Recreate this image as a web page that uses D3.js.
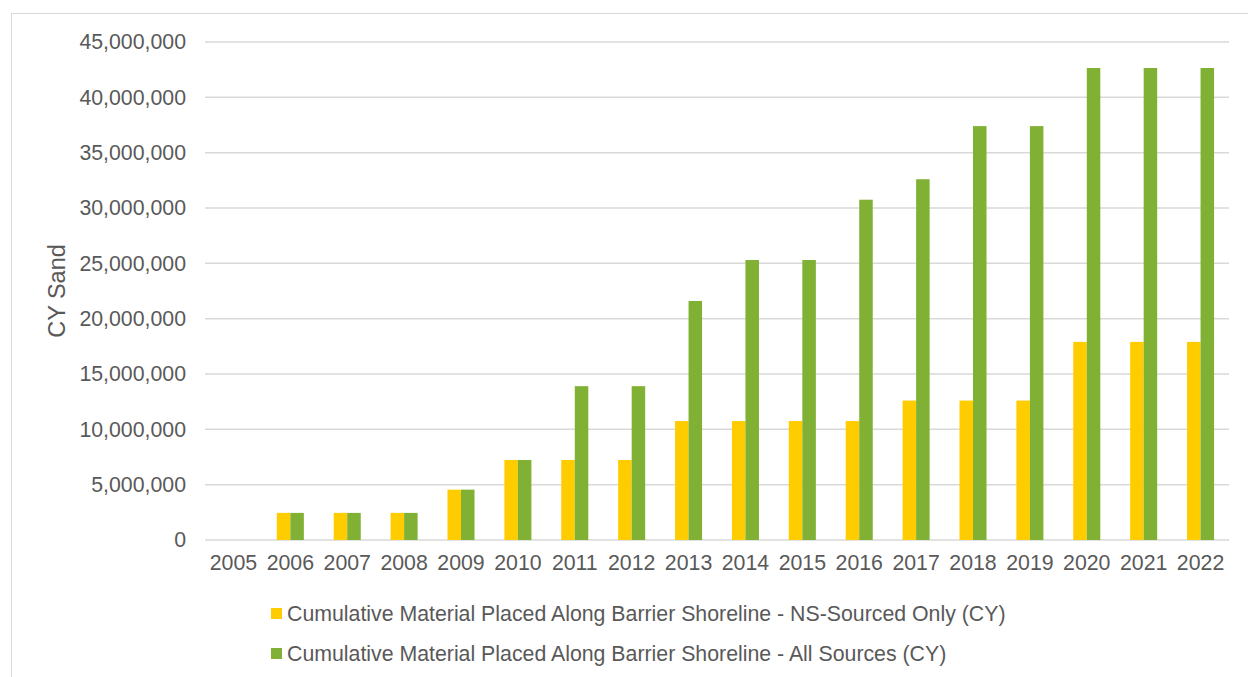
<!DOCTYPE html>
<html>
<head>
<meta charset="utf-8">
<script src="https://cdn.jsdelivr.net/npm/d3@7"></script>
<style>
  html, body { margin: 0; padding: 0; background: #fff; }
  svg { display: block; }
  text { font-family: "Liberation Sans", Arial, sans-serif; fill: #595959; }
</style>
</head>
<body>
<svg id="chart" width="1248" height="677"></svg>
<script>
const years = ["2005","2006","2007","2008","2009","2010","2011","2012","2013","2014","2015","2016","2017","2018","2019","2020","2021","2022"];
const nsSourced = [0, 2450000, 2450000, 2450000, 4550000, 7230000, 7230000, 7230000, 10750000, 10750000, 10750000, 10750000, 12600000, 12600000, 12600000, 17900000, 17900000, 17900000];
const allSources = [0, 2450000, 2450000, 2450000, 4550000, 7230000, 13900000, 13900000, 21600000, 25300000, 25300000, 30750000, 32600000, 37400000, 37400000, 42650000, 42650000, 42650000];
const yTicks = [0, 5000000, 10000000, 15000000, 20000000, 25000000, 30000000, 35000000, 40000000, 45000000];
const seriesNames = [
  "Cumulative Material Placed Along Barrier Shoreline - NS-Sourced Only (CY)",
  "Cumulative Material Placed Along Barrier Shoreline - All Sources (CY)"
];
const seriesColors = ["#FFCC00", "#80B135"];
const yTitle = "CY Sand";

(function () {
const svg = d3.select("#chart");
const fontFam = '"Liberation Sans", Arial, sans-serif';
const fs = "21.3px";

// outer chart border
svg.append("rect")
  .attr("x", 11.5).attr("y", 13.5)
  .attr("width", 1260).attr("height", 700)
  .attr("fill", "none").attr("stroke", "#D9D9D9").attr("stroke-width", 1);

const pLeft = 205, pRight = 1229, pTop = 42, pBottom = 540;

const x = d3.scaleBand().domain(years).range([pLeft, pRight]).paddingInner(0).paddingOuter(0);
const y = d3.scaleLinear().domain([0, 45000000]).range([pBottom, pTop]);

const groupFrac = 0.475;
const barW = x.bandwidth() * groupFrac / 2;

// gridlines
svg.append("g").selectAll("line").data(yTicks).join("line")
  .attr("x1", pLeft).attr("x2", pRight)
  .attr("y1", d => y(d)).attr("y2", d => y(d))
  .attr("stroke", "#D9D9D9").attr("stroke-width", 1.5);

// y axis labels
const yAxis = d3.axisLeft(y).tickValues(yTicks).tickSize(0).tickPadding(19)
  .tickFormat(d3.format(","));
const gy = svg.append("g").attr("transform", `translate(${pLeft},0)`).call(yAxis);
gy.select(".domain").remove();
gy.selectAll("text").style("font-size", fs).attr("fill", "#595959").style("font-family", fontFam);

// x axis labels
const xAxis = d3.axisBottom(x).tickSize(0).tickPadding(15);
const gx = svg.append("g").attr("transform", `translate(0,${pBottom})`).call(xAxis);
gx.select(".domain").remove();
gx.selectAll("text").style("font-size", fs).attr("fill", "#595959").style("font-family", fontFam);

// bars
const series = [nsSourced, allSources];
series.forEach((vals, si) => {
  svg.append("g").selectAll("rect").data(vals.map((v, i) => ({ year: years[i], v }))).join("rect")
    .attr("x", d => x(d.year) + x.bandwidth() / 2 - barW + si * barW)
    .attr("y", d => y(d.v))
    .attr("width", barW)
    .attr("height", d => pBottom - y(d.v))
    .attr("fill", seriesColors[si]);
});

// y title
svg.append("text")
  .attr("transform", `translate(65,${(pTop + pBottom) / 2}) rotate(-90)`)
  .attr("text-anchor", "middle")
  .style("font-size", "23.5px")
  .text(yTitle);

// legend
const legendY = [613.5, 653.5];
seriesNames.forEach((name, i) => {
  svg.append("rect")
    .attr("x", 271).attr("y", legendY[i] - 5.5)
    .attr("width", 11).attr("height", 11)
    .attr("fill", seriesColors[i]);
  svg.append("text")
    .attr("x", 287).attr("y", legendY[i])
    .attr("dy", "0.35em")
    .style("font-size", fs)
    .text(name);
});
})();
</script>
</body>
</html>
